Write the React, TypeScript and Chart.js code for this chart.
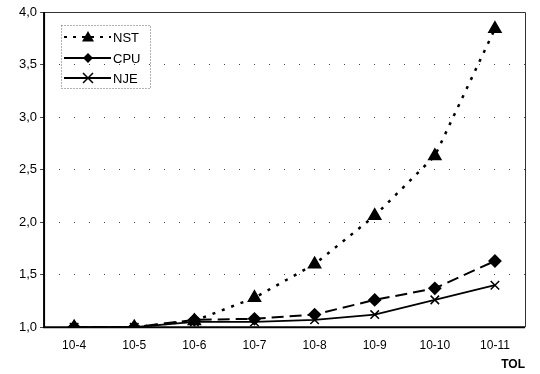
import React, { useEffect, useRef } from "react";
import { Chart, registerables } from "chart.js";

Chart.register(...registerables);

const categories = ["10-4", "10-5", "10-6", "10-7", "10-8", "10-9", "10-10", "10-11"];
const nstValues = [1.0, 1.0, 1.06, 1.28, 1.6, 2.06, 2.63, 3.84];
const cpuValues = [1.0, 1.0, 1.07, 1.08, 1.12, 1.26, 1.37, 1.63];
const njeValues = [1.0, 1.0, 1.05, 1.05, 1.07, 1.12, 1.26, 1.4];
const seriesNames = ["NST", "CPU", "NJE"];
const xTitle = "TOL";

const FONT = "Liberation Sans, Arial, sans-serif";

function drawMarker(ctx: CanvasRenderingContext2D, style: string, x: number, y: number) {
  ctx.save();
  ctx.fillStyle = "#000";
  ctx.strokeStyle = "#000";
  ctx.beginPath();
  if (style === "triangle") {
    ctx.moveTo(x, y - 6);
    ctx.lineTo(x + 6, y + 4.5);
    ctx.lineTo(x - 6, y + 4.5);
    ctx.closePath();
    ctx.fill();
  } else if (style === "rectRot") {
    ctx.moveTo(x, y - 5);
    ctx.lineTo(x + 5, y);
    ctx.lineTo(x, y + 5);
    ctx.lineTo(x - 5, y);
    ctx.closePath();
    ctx.fill();
  } else {
    ctx.lineWidth = 1.5;
    ctx.moveTo(x - 5, y - 5);
    ctx.lineTo(x + 5, y + 5);
    ctx.moveTo(x + 5, y - 5);
    ctx.lineTo(x - 5, y + 5);
    ctx.stroke();
  }
  ctx.restore();
}

const framePlugin = {
  id: "frame",
  afterDraw(chart: any) {
    const { ctx, chartArea: a } = chart;
    ctx.save();
    ctx.strokeStyle = "#333";
    ctx.lineWidth = 1;
    ctx.beginPath();
    ctx.moveTo(a.left, a.top + 0.5);
    ctx.lineTo(a.right + 0.5, a.top + 0.5);
    ctx.lineTo(a.right + 0.5, a.bottom);
    ctx.stroke();
    ctx.strokeStyle = "#000";
    ctx.lineWidth = 2;
    ctx.beginPath();
    ctx.moveTo(a.left, a.top);
    ctx.lineTo(a.left, a.bottom);
    ctx.lineTo(a.right, a.bottom);
    ctx.stroke();

    // legend box
    const bx = 61, by = 25, bw = 89, bh = 63;
    ctx.strokeStyle = "#666";
    ctx.lineWidth = 1;
    ctx.setLineDash([1, 2]);
    ctx.strokeRect(bx + 0.5, by + 0.5, bw, bh);
    ctx.setLineDash([]);
    const items = [
      { y: 37, dash: [3, 6], style: "triangle" },
      { y: 58, dash: [], style: "rectRot" },
      { y: 78, dash: [], style: "crossRot" },
    ];
    items.forEach((it, i) => {
      ctx.strokeStyle = "#000";
      ctx.lineWidth = 2;
      ctx.setLineDash(it.dash);
      ctx.beginPath();
      ctx.moveTo(64, it.y);
      ctx.lineTo(111, it.y);
      ctx.stroke();
      ctx.setLineDash([]);
      drawMarker(ctx, it.style, 88, it.y);
      ctx.fillStyle = "#000";
      ctx.font = `13px ${FONT}`;
      ctx.textBaseline = "middle";
      ctx.textAlign = "left";
      ctx.fillText(seriesNames[i], 113, it.y + 1);
    });
    ctx.restore();
  },
};

export default function App() {
  const ref = useRef<HTMLCanvasElement>(null);
  useEffect(() => {
    document.body.style.margin = "0";
    const chart = new Chart(ref.current!, {
      type: "line",
      data: {
        labels: categories,
        datasets: [
          {
            label: seriesNames[0],
            data: nstValues,
            borderColor: "#000",
            backgroundColor: "#000",
            borderWidth: 2.5,
            borderDash: [3, 7],
            pointStyle: "triangle",
            pointRadius: 6,
            tension: 0,
          },
          {
            label: seriesNames[1],
            data: cpuValues,
            borderColor: "#000",
            backgroundColor: "#000",
            borderWidth: 2,
            borderDash: [12, 6],
            pointStyle: "rectRot",
            pointRadius: 5.5,
            tension: 0,
          },
          {
            label: seriesNames[2],
            data: njeValues,
            borderColor: "#000",
            backgroundColor: "#000",
            borderWidth: 1.8,
            pointStyle: "crossRot",
            pointRadius: 6,
            pointBorderWidth: 1.5,
            tension: 0,
          },
        ],
      },
      options: {
        animation: false,
        responsive: false,
        layout: { padding: { top: 12, right: 15, left: 16, bottom: 0 } },
        plugins: { legend: { display: false }, tooltip: { enabled: false } },
        scales: {
          x: {
            offset: true,
            grid: { display: false, drawTicks: false },
            border: { display: false },
            ticks: { color: "#000", font: { family: FONT, size: 12 }, padding: 11 },
            title: {
              display: true,
              text: xTitle,
              align: "end",
              color: "#000",
              font: { family: FONT, size: 12, weight: "bold" },
              padding: { top: -6, bottom: 2 },
            },
          },
          y: {
            min: 1,
            max: 4,
            grid: {
              color: "#444",
              lineWidth: 1,
              tickLength: 4,
              drawOnChartArea: true,
            },
            border: { display: false, dash: [1, 14] },
            ticks: {
              stepSize: 0.5,
              color: "#000",
              font: { family: FONT, size: 13 },
              padding: 3,
              callback: (v: any) => Number(v).toFixed(1).replace(".", ","),
            },
          },
        },
      },
      plugins: [framePlugin],
    });
    return () => chart.destroy();
  }, []);
  return (
    <div style={{ position: "absolute", left: 0, top: 0, width: 540, height: 374 }}>
      <canvas ref={ref} width={540} height={374} style={{ width: 540, height: 374 }} />
    </div>
  );
}
